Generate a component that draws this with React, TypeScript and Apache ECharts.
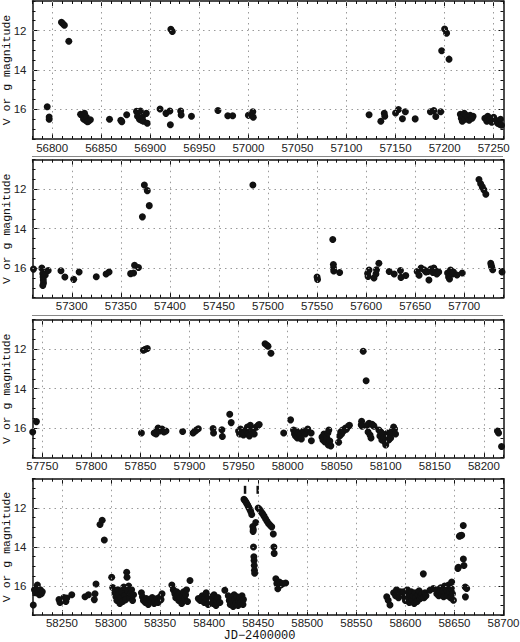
import React, { useEffect, useRef } from "react";
import * as echarts from "echarts";

// Panel JD ranges
const ranges: number[][] = [
  [56780, 57260],
  [57260, 57740],
  [57740, 58220],
  [58220, 58700],
];

// Tick labels
const xTicks1 = [56800, 56850, 56900, 56950, 57000, 57050, 57100, 57150, 57200, 57250];
const xTicks2 = [57300, 57350, 57400, 57450, 57500, 57550, 57600, 57650, 57700];
const xTicks3 = [57750, 57800, 57850, 57900, 57950, 58000, 58050, 58100, 58150, 58200];
const xTicks4 = [58250, 58300, 58350, 58400, 58450, 58500, 58550, 58600, 58650, 58700];
const yTicks = [12, 14, 16];
const magRange = [10.5, 17.5];

// Light curve points [JD-2400000, magnitude]
const p1: number[][] = [
  [56795, 15.86], [56797, 16.38], [56797, 16.5],
  [56809.5, 11.58], [56811, 11.65], [56812.5, 11.73],
  [56817, 12.54],
  [56829, 16.25], [56831, 16.32], [56832, 16.48], [56833, 16.2], [56834, 16.55], [56835, 16.4], [56837, 16.6], [56839, 16.52], [56836, 16.62],
  [56858.5, 16.5],
  [56870, 16.55], [56871, 16.62],
  [56876, 16.27],
  [56886, 16.1], [56887, 16.35], [56889, 16.5], [56890, 16.08], [56891, 16.55], [56892, 16.4], [56893, 16.6], [56896, 16.2], [56897, 16.7],
  [56910, 15.98],
  [56916, 16.2],
  [56920, 16.08], [56920.5, 16.78],
  [56921, 11.93], [56922.5, 12.05],
  [56931, 16.08], [56931.5, 16.28],
  [56942, 16.35],
  [56969, 16.05],
  [56979, 16.32], [56984, 16.32],
  [57000, 16.3], [57004.5, 16.12], [57005, 16.4],
  [57123, 16.27],
  [57135, 16.6],
  [57138.5, 16.2], [57139, 16.35],
  [57150, 16.18], [57153, 16.0],
  [57157, 16.47], [57160, 16.12],
  [57170, 16.48],
  [57185.5, 16.12], [57189, 16.06],
  [57191, 16.36],
  [57196, 16.12],
  [57197, 13.02],
  [57200, 11.92], [57202, 12.13],
  [57204.5, 13.45],
  [57216, 16.25], [57217, 16.45], [57218, 16.6], [57219, 16.35], [57220, 16.2], [57221, 16.5], [57222, 16.3], [57224, 16.4], [57225, 16.55], [57226, 16.3], [57228, 16.45], [57229, 16.35],
  [57241, 16.45], [57243, 16.6], [57244, 16.35], [57246, 16.5], [57248, 16.65], [57250, 16.4], [57252, 16.55], [57254, 16.7], [57256, 16.75], [57257, 16.5], [57258, 16.8],
];

const p2: number[][] = [
  [57261, 16.05], [57269.5, 16.0], [57270.5, 16.28], [57270.8, 16.45], [57271, 16.6], [57271.2, 16.75], [57270.5, 16.88], [57273, 16.35], [57276, 16.12],
  [57289, 16.13], [57293, 16.45], [57302, 16.57], [57307.5, 16.2],
  [57325, 16.44], [57335, 16.3], [57338, 16.2],
  [57360, 16.28], [57363, 16.25], [57364, 15.85], [57368, 15.97],
  [57372, 13.4], [57374, 11.78], [57377, 12.07], [57379, 12.83],
  [57484.6, 11.78],
  [57550, 16.45], [57550.5, 16.58],
  [57566, 14.55], [57566.6, 15.82], [57566.8, 16.0], [57567, 16.15], [57573, 16.22],
  [57601.5, 16.27], [57602, 16.42], [57603, 16.1],
  [57608, 16.5], [57610, 16.3], [57610.6, 16.08], [57613, 15.75],
  [57623.5, 16.17], [57628.6, 16.3],
  [57635, 16.12], [57635.5, 16.47], [57640.4, 16.37],
  [57652, 16.17], [57654, 16.36], [57656, 16.0], [57659, 16.08], [57661, 16.2], [57663, 16.17], [57664, 16.6], [57666, 16.05], [57668, 16.22], [57669, 16.0], [57671, 16.15], [57672, 16.3], [57674, 16.2],
  [57683, 16.25], [57684, 16.45], [57685, 16.55], [57686, 16.1], [57688, 16.3], [57689, 16.2],
  [57692.6, 16.35], [57698, 16.25],
  [57715, 11.5], [57716.7, 11.72], [57718.4, 11.88], [57720, 12.03], [57722, 12.25],
  [57727, 15.75], [57727.5, 15.85], [57728, 15.95], [57729, 16.08],
  [57738.5, 16.2],
];

const p3: number[][] = [
  [57740.2, 16.2], [57744, 15.67],
  [57851, 16.25],
  [57853, 12.05], [57855, 12.0], [57857, 11.96],
  [57864, 16.25], [57866, 16.3], [57867, 16.1], [57868, 16.0], [57870, 16.15], [57872, 16.05], [57874, 16.2], [57876, 16.15],
  [57893, 16.17],
  [57903.6, 16.25], [57905, 16.18], [57907, 16.1], [57909, 16.03],
  [57924, 16.02], [57924.5, 16.25],
  [57933, 16.08], [57933.5, 16.42],
  [57941, 15.3], [57942.5, 15.72],
  [57950, 16.15], [57951, 16.3], [57952, 16.05], [57953, 16.25], [57955, 16.35], [57956, 16.2], [57958, 16.1], [57959, 15.95], [57960, 16.3], [57961, 16.4], [57962, 15.85], [57964, 16.2], [57965, 16.05], [57966, 16.3], [57968, 15.95], [57970, 15.85], [57971, 15.82],
  [57977, 11.72], [57979, 11.8], [57980, 11.85], [57983, 12.2],
  [57996, 16.25],
  [58003, 15.58],
  [58006, 16.1], [58007, 16.3], [58008, 16.4], [58009, 16.15], [58010, 16.5], [58011, 16.25], [58013, 16.35], [58014, 16.55], [58016, 16.15], [58018, 16.3], [58020.5, 16.05], [58024, 16.25], [58024.2, 16.64],
  [58035, 16.45], [58036, 16.6], [58037, 16.3], [58038, 16.7], [58040, 16.5], [58041, 16.25], [58041.5, 16.85], [58042, 16.1], [58043, 16.65], [58044, 16.9],
  [58052, 16.72], [58053, 16.4], [58054, 16.2], [58055, 16.3], [58056, 16.1], [58057, 16.15], [58059, 16.0], [58060, 16.05], [58062, 15.9], [58063, 15.85],
  [58075, 15.83], [58075.4, 15.65], [58076, 15.9],
  [58077, 12.1],
  [58080, 13.6],
  [58081, 15.85], [58082, 16.2], [58083, 15.75], [58084, 16.35], [58085, 16.5], [58086, 15.8], [58087, 15.85], [58088, 15.9],
  [58093, 16.1], [58094, 16.4], [58095, 16.2], [58096, 16.6], [58097, 16.3], [58098, 16.5], [58099, 16.7], [58100, 16.85], [58101, 16.45], [58102, 16.25], [58103, 16.6], [58104, 16.35], [58105, 16.5], [58106, 16.2], [58107, 16.1], [58108, 15.95], [58109, 16.05], [58110, 16.3],
  [58213.8, 16.15], [58215, 16.25], [58218, 16.93],
];

const p4: number[][] = [
  [58220.8, 16.98],
  [58222, 16.2], [58223, 16.35], [58224, 16.1], [58225, 15.95], [58226, 16.3], [58227, 16.45], [58228, 16.2], [58229, 16.4], [58230, 16.3],
  [58247, 16.7], [58248, 16.85], [58250, 16.75], [58252, 16.6], [58254, 16.8], [58255, 16.62],
  [58260, 16.45],
  [58273.5, 16.55], [58277, 16.45],
  [58283, 16.7], [58283.7, 16.4], [58284.7, 15.9],
  [58288.8, 12.85], [58291, 12.63], [58293.2, 13.64],
  [58300.7, 15.55], [58301.7, 16.08],
  [58304, 16.35], [58305, 16.55], [58306, 16.75], [58307, 16.2], [58308, 16.45], [58309, 16.9], [58310, 16.6], [58311, 16.3], [58312, 16.8], [58313, 16.05], [58314, 16.5], [58315, 16.7], [58316, 15.3], [58316.3, 15.55], [58317, 16.25], [58318, 16.0], [58319, 16.6], [58320, 16.4], [58321, 16.2], [58322, 16.75], [58323, 16.45],
  [58331, 16.35], [58332, 16.55], [58333, 16.75], [58335, 16.85], [58336, 16.65], [58338, 16.95], [58339, 16.7], [58341, 16.8], [58342, 16.6], [58344, 16.9], [58345, 16.75], [58347, 16.65], [58348, 16.85], [58350, 16.55], [58351, 16.7], [58352, 16.4],
  [58362, 15.95],
  [58363.5, 16.2], [58365, 16.4], [58366, 16.6], [58367, 16.3], [58368, 16.5], [58369, 16.75], [58370, 16.4], [58371, 16.6], [58372, 16.9], [58373, 16.5], [58374, 16.3], [58375, 16.65], [58376, 16.45], [58377, 16.2], [58378, 16.8],
  [58380.5, 15.72],
  [58389, 16.65], [58391, 16.75], [58393, 16.5], [58395, 16.85], [58396, 16.6], [58397, 16.35], [58398, 16.7], [58399, 16.95], [58400, 16.55], [58401, 16.8], [58403, 16.65], [58404, 16.9], [58405, 16.45], [58407, 17.0], [58408, 16.75], [58409, 16.6], [58411, 16.85],
  [58416, 16.22],
  [58419.5, 16.5], [58420.5, 16.75], [58421.5, 16.95], [58422.5, 16.6], [58423.5, 16.8], [58424.5, 17.05], [58425.5, 16.45], [58426.5, 16.7], [58427.5, 16.9], [58428.5, 16.55], [58429.5, 17.0], [58430.5, 16.75], [58431.5, 16.6], [58432.5, 16.85], [58433.5, 16.5], [58434.5, 16.95], [58435, 16.7],
  [58435.5, 11.56], [58436.5, 11.62], [58437.5, 11.7], [58438.5, 11.78], [58439.5, 11.88], [58440.5, 11.98], [58441.5, 12.08], [58442.4, 12.18], [58443.4, 12.34],
  [58444.5, 12.95], [58445, 13.1], [58444.8, 13.2],
  [58445.2, 14.0], [58445.6, 14.5], [58445.8, 14.7], [58446, 14.95], [58446.2, 15.2], [58446.4, 15.35],
  [58447.5, 12.75],
  [58450, 12.0], [58451.5, 12.08], [58453, 12.2], [58454.5, 12.3], [58456, 12.42], [58457.5, 12.55], [58459, 12.68], [58460.5, 12.8], [58462, 12.88], [58463.8, 12.97], [58465.4, 13.34],
  [58466, 14.0], [58466.3, 14.33],
  [58468, 15.63], [58469, 15.88], [58470, 16.14], [58470.5, 16.0], [58471.6, 15.8], [58473, 15.95], [58475, 15.88], [58478, 15.85],
  [58581, 16.56], [58582.5, 16.73], [58584.3, 16.98],
  [58588, 16.35], [58590, 16.5], [58591, 16.2], [58593, 16.6], [58595, 16.3],
  [58598, 16.3], [58599, 16.55], [58600, 16.75], [58601, 16.4], [58602, 16.2], [58603, 16.6], [58604, 16.85], [58605, 16.45], [58606, 16.3], [58607, 16.7], [58608, 16.5], [58609, 16.9], [58610, 16.35], [58611, 16.6], [58612, 16.8], [58613, 16.45], [58614, 16.25], [58615, 16.65], [58616, 16.5], [58617, 16.4], [58618.3, 15.38], [58619, 16.6], [58620, 16.35], [58621, 16.5],
  [58625, 16.22], [58628.5, 16.13],
  [58632, 16.4], [58633, 16.2], [58634, 16.5], [58635, 16.3], [58636, 16.1], [58637, 16.45], [58638, 16.25], [58639, 16.55], [58640, 16.0], [58641, 16.35], [58642, 16.2], [58643, 16.5], [58644, 15.95], [58645, 16.3], [58646, 16.6], [58647, 16.15], [58647.2, 15.8], [58648, 16.4], [58649, 16.73],
  [58653.5, 15.1], [58654, 15.04], [58655, 13.45], [58656, 13.42], [58657.4, 13.4], [58659, 12.9], [58659.1, 14.62], [58659.7, 14.95],
  [58661, 16.05], [58662.5, 16.13], [58661.2, 16.56],
];

// Outburst onset markers (panel 4)
const markers: number[][] = [
  [58436.6, 11.07],
  [58449.5, 11.07],
];

const panelData = [p1, p2, p3, p4];
const panelTicks = [xTicks1, xTicks2, xTicks3, xTicks4];

const tops = [1, 159.7, 319.7, 478.7];
const heights = [138, 138, 138, 136.5];
const gridLeft = 32.5;
const gridWidth = 471;

const INK = "#111";
const labelFont = "'Liberation Sans', Arial, sans-serif";
const monoFont = "'Courier New', 'Liberation Mono', monospace";
const plain = (v: number) => String(v);

export default function App() {
  const ref = useRef<HTMLDivElement>(null);

  useEffect(() => {
    if (!ref.current) return;
    const chart = echarts.init(ref.current, null, { renderer: "svg" });

    const grid: any[] = [];
    const xAxis: any[] = [];
    const yAxis: any[] = [];
    const series: any[] = [];

    const frameLine = { show: true, onZero: false, lineStyle: { color: INK, width: 1.5 } };
    const tickStyle = { color: INK, width: 1 };

    for (let i = 0; i < 4; i++) {
      const [xmin, xmax] = ranges[i];
      const ticks = panelTicks[i];
      grid.push({ left: gridLeft, width: gridWidth, top: tops[i], height: heights[i], outerBoundsMode: "none" });

      const xBase = {
        gridIndex: i,
        type: "value",
        min: xmin,
        max: xmax,
        splitLine: { show: false },
      };
      xAxis.push({
        ...xBase,
        position: "bottom",
        interval: 10,
        axisLine: frameLine,
        axisTick: { show: true, inside: true, length: 5, customValues: ticks, lineStyle: tickStyle },
        axisLabel: {
          show: true,
          customValues: ticks,
          formatter: plain,
          margin: i === 3 ? 2 : 3,
          lineHeight: 11.5,
          color: "#222",
          fontFamily: labelFont,
          fontSize: 11.5,
          showMinLabel: true,
          showMaxLabel: true,
        },
      });
      xAxis.push({
        ...xBase,
        position: "bottom",
        interval: 10,
        axisLine: { show: false, onZero: false },
        axisTick: { show: true, inside: true, length: 3, lineStyle: tickStyle },
        axisLabel: { show: false },
      });
      xAxis.push({
        ...xBase,
        position: "top",
        interval: 10,
        axisLine: frameLine,
        axisTick: { show: true, inside: true, length: 5, customValues: ticks, lineStyle: tickStyle },
        axisLabel: { show: false },
      });
      xAxis.push({
        ...xBase,
        position: "top",
        interval: 10,
        axisLine: { show: false, onZero: false },
        axisTick: { show: true, inside: true, length: 3, lineStyle: tickStyle },
        axisLabel: { show: false },
      });

      const yBase = {
        gridIndex: i,
        type: "value",
        min: magRange[0],
        max: magRange[1],
        inverse: true,
        interval: 0.5,
        splitLine: { show: false },
      };
      yAxis.push({
        ...yBase,
        position: "left",
        axisLine: frameLine,
        axisTick: { show: true, inside: true, length: 5, customValues: yTicks, lineStyle: tickStyle },
        axisLabel: {
          show: true,
          customValues: yTicks,
          formatter: plain,
          margin: 6,
          color: "#222",
          fontFamily: labelFont,
          fontSize: 11.5,
        },
        name: "V or g magnitude",
        nameLocation: "middle",
        nameRotate: 90,
        nameGap: 20,
        nameMoveOverlap: false,
        nameTextStyle: { fontFamily: monoFont, fontSize: 11.5, color: INK },
      });
      yAxis.push({
        ...yBase,
        position: "left",
        axisLine: { show: false, onZero: false },
        axisTick: { show: true, inside: true, length: 3, lineStyle: tickStyle },
        axisLabel: { show: false },
      });
      yAxis.push({
        ...yBase,
        position: "right",
        axisLine: frameLine,
        axisTick: { show: true, inside: true, length: 5, customValues: yTicks, lineStyle: tickStyle },
        axisLabel: { show: false },
      });
      yAxis.push({
        ...yBase,
        position: "right",
        axisLine: { show: false, onZero: false },
        axisTick: { show: true, inside: true, length: 3, lineStyle: tickStyle },
        axisLabel: { show: false },
      });

      series.push({
        type: "scatter",
        xAxisIndex: 4 * i,
        yAxisIndex: 4 * i,
        data: [],
        z: 1,
        silent: true,
        markLine: {
          silent: true,
          symbol: ["none", "none"],
          label: { show: false },
          lineStyle: { color: "#9a9a9a", type: [1.5, 4], width: 1 },
          emphasis: { disabled: true },
          data: [
            ...ticks.filter((v) => v < xmax).map((v) => ({ xAxis: v })),
            ...yTicks.map((v) => ({ yAxis: v })),
          ],
        },
      });

      series.push({
        type: "scatter",
        xAxisIndex: 4 * i,
        yAxisIndex: 4 * i,
        data: panelData[i],
        symbol: "circle",
        symbolSize: 7,
        itemStyle: { color: INK, opacity: 1 },
        z: 3,
        clip: true,
      });
    }

    series.push({
      type: "scatter",
      xAxisIndex: 12,
      yAxisIndex: 12,
      data: markers,
      symbol: "rect",
      symbolSize: [2.5, 8],
      itemStyle: { color: INK, opacity: 1 },
      z: 4,
    });

    chart.setOption({
      animation: false,
      backgroundColor: "#fff",
      grid,
      xAxis,
      yAxis,
      series,
      graphic: [
        { type: "line", shape: { x1: 32, y1: 156.5, x2: 503, y2: 156.5 }, style: { stroke: "#888", lineWidth: 1.2 } },
        { type: "line", shape: { x1: 32, y1: 315.5, x2: 503, y2: 315.5 }, style: { stroke: "#888", lineWidth: 1.2 } },
        {
          type: "text",
          x: 259.5,
          y: 635.5,
          style: {
            text: "JD−2400000",
            fontFamily: monoFont,
            fontSize: 12,
            lineHeight: 10.5,
            fill: INK,
            align: "center",
            verticalAlign: "middle",
          },
        },
      ],
    });

    return () => chart.dispose();
  }, []);

  return (
    <div
      ref={ref}
      style={{ position: "absolute", left: 0, top: 0, width: 520, height: 642, background: "#fff" }}
    />
  );
}
